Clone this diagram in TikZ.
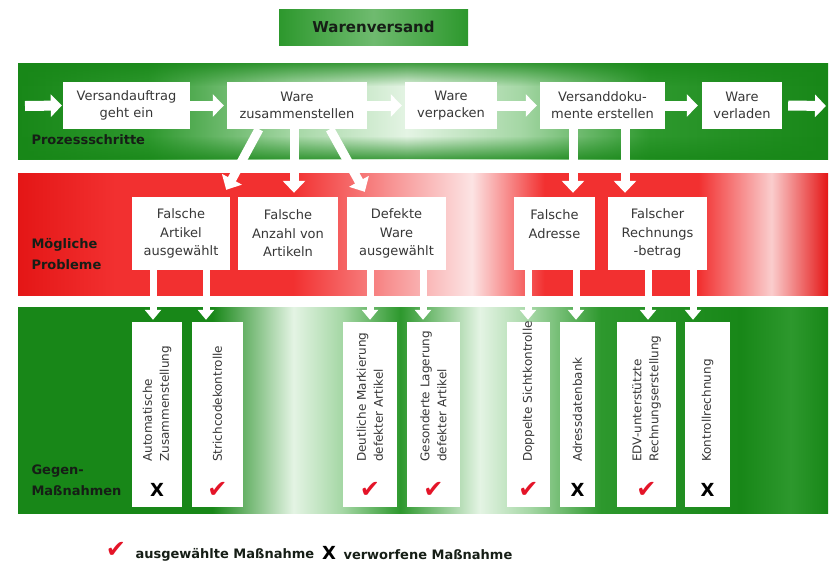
\documentclass[tikz,border=0pt]{standalone}
\usepackage{fontspec}
\setmainfont{DejaVu Sans}
\usetikzlibrary{arrows.meta,fadings}

\definecolor{gdark}{RGB}{24,135,24}
\definecolor{gmid}{RGB}{45,152,45}
\definecolor{glight}{RGB}{165,215,165}
\definecolor{gpale}{RGB}{228,244,228}
\definecolor{rdark}{RGB}{228,22,22}
\definecolor{rmid}{RGB}{242,48,48}
\definecolor{rlight}{RGB}{250,205,205}
\definecolor{rpale}{RGB}{252,228,228}
\definecolor{txt}{RGB}{55,55,55}
\definecolor{lbl}{RGB}{22,30,22}
\definecolor{checkred}{RGB}{228,20,40}

\pgfdeclarehorizontalshading{topband}{100bp}{color(0bp)=(gdark); color(25bp)=(gdark);
  color(33bp)=(gmid); color(42bp)=(glight); color(49bp)=(gpale); color(56bp)=(glight);
  color(64bp)=(gmid); color(75bp)=(gdark); color(100bp)=(gdark)}
\pgfdeclarehorizontalshading{redband}{100bp}{color(0bp)=(rdark); color(25bp)=(rdark);
  color(31bp)=(rmid); color(42bp)=(rmid); color(53bp)=(rpale); color(57.5bp)=(rmid);
  color(67bp)=(rmid); color(71.5bp)=(rlight); color(75bp)=(rdark); color(100bp)=(rdark)}
\pgfdeclarehorizontalshading{lowband}{100bp}{color(0bp)=(gdark); color(25bp)=(gdark);
  color(37bp)=(gdark); color(42bp)=(gpale); color(45bp)=(glight); color(48.6bp)=(gmid);
  color(53.5bp)=(gpale); color(56.6bp)=(glight); color(61bp)=(gmid); color(69.6bp)=(gdark);
  color(72.7bp)=(gmid); color(75bp)=(gdark); color(100bp)=(gdark)}

\tikzfading[name=fadedown, top color=transparent!0, bottom color=transparent!100]
\tikzfading[name=fadeup, top color=transparent!100, bottom color=transparent!0]

\newcommand{\markok}{{\color{checkred}\fontsize{24}{24}\selectfont ✔}}
\newcommand{\markno}{{\color{black}\bfseries\fontsize{18}{18}\selectfont X}}

\begin{document}
\begin{tikzpicture}[x=1pt, y=-1pt,
    procbox/.style={fill=white, minimum height=47pt, align=center, text=txt,
      font=\fontsize{13}{17}\selectfont},
    probbox/.style={fill=white, minimum height=73pt, align=center, text=txt,
      font=\fontsize{13}{18.5}\selectfont},
    measbox/.style={fill=white, minimum height=185pt, inner sep=0pt},
    meastext/.style={rotate=90, anchor=west, align=left, text=txt,
      font=\fontsize{12}{17}\selectfont},
    bandlabel/.style={anchor=west, align=left, text=lbl,
      font=\bfseries\fontsize{13}{21}\selectfont},
    blockarrow/.style={draw=white, line width=10pt, -{Triangle[width=22pt,length=11pt]}},
    downarrow/.style={draw=white, line width=9pt, -{Triangle[width=22pt,length=12pt]}},
    smallarrow/.style={draw=white, line width=7pt, shorten >=2pt,
      -{Triangle[width=16pt,length=10pt]}}]
  \useasboundingbox (0,0) rectangle (831,566);

  % bands
  \fill[shading=topband] (18,63) rectangle (828,159);
  \fill[gdark, opacity=0.8, path fading=fadedown] (18,63) rectangle (828,86);
  \fill[gdark, opacity=0.8, path fading=fadeup] (18,136) rectangle (828,159);
  \fill[shading=redband] (18,173) rectangle (828,295);
  \fill[shading=lowband] (18,307) rectangle (828,513);

  \node[left color=gmid, right color=gmid, middle color=glight!55!gmid, minimum width=189pt,
    minimum height=36pt, text=lbl, font=\bfseries\fontsize{15}{15}\selectfont]
    (title) at (373.5,27) {Warenversand};

  % process steps
  \node[procbox, minimum width=127pt] (s1) at (126.5,105.5) {Versandauftrag\\geht ein};
  \node[procbox, minimum width=140pt] (s2) at (297,105.5) {Ware\\zusammenstellen};
  \node[procbox, minimum width=92pt] (s3) at (451,105.5) {Ware\\verpacken};
  \node[procbox, minimum width=125pt] (s4) at (602.5,105.5) {Versanddoku-\\mente erstellen};
  \node[procbox, minimum width=80pt] (s5) at (742,105.5) {Ware\\verladen};
  \coordinate (in) at (25,106);
  \coordinate (out) at (826,106);
  \node[bandlabel] (steps) at (28,140) {Prozessschritte};

  \draw[blockarrow] (in) -- ([xshift=-1pt]s1.west);
  \draw[blockarrow] (s1.east) -- ([xshift=-3pt]s2.west);
  \draw[blockarrow] (s2.east) -- ([xshift=-3pt]s3.west);
  \draw[blockarrow] (s3.east) -- ([xshift=-3pt]s4.west);
  \draw[blockarrow] (s4.east) -- ([xshift=-4pt]s5.west);
  \draw[blockarrow] ([xshift=6pt]s5.east) -- (out);

  % problems
  \node[probbox, minimum width=98pt] (p1) at (181,233.5) {Falsche\\Artikel\\ausgewählt};
  \node[probbox, minimum width=100pt] (p2) at (288,233.5) {Falsche\\Anzahl von\\Artikeln};
  \node[probbox, minimum width=99pt] (p3) at (396.5,233.5) {Defekte\\Ware\\ausgewählt};
  \node[probbox, minimum width=81pt] (p4) at (554.5,233.5) {Falsche\\Adresse\\~};
  \node[probbox, minimum width=99pt] (p5) at (657.5,233.5) {Falscher\\Rechnungs\\-betrag};
  \node[bandlabel] (probs) at (28,254) {Mögliche\\Probleme};

  \draw[downarrow] ([xshift=-38pt]s2.south) -- ([shift={(-4pt,7pt)}]p1.north east);
  \draw[downarrow, shorten >=4pt] ([xshift=-3pt]s2.south) -- ([xshift=-3pt]s2.south |- p2.north);
  \draw[downarrow] ([xshift=33pt]s2.south) -- ([shift={(18pt,5pt)}]p3.north west);
  \draw[downarrow, shorten >=4pt] ([xshift=-29.5pt]s4.south) -- ([xshift=-29.5pt]s4.south |- p4.north);
  \draw[downarrow, shorten >=4pt] ([xshift=22.5pt]s4.south) -- ([xshift=22.5pt]s4.south |- p5.north);

  % counter measures
  \foreach \n/\x/\w/\txt/\mk in {
      m1/157/50/{Automatische\\Zusammenstellung}/\markno,
      m2/217.5/51/{Strichcodekontrolle}/\markok,
      m3/370/54/{Deutliche Markierung\\defekter Artikel}/\markok,
      m4/433.5/53/{Gesonderte Lagerung\\defekter Artikel}/\markok,
      m5/528.5/43/{Doppelte Sichtkontrolle}/\markok,
      m6/577.5/35/{Adressdatenbank}/\markno,
      m7/646.5/59/{EDV-unterstützte\\Rechnungserstellung}/\markok,
      m8/707.5/45/{Kontrollrechnung}/\markno} {
    \node[measbox, minimum width=\w pt] (\n) at (\x,414.5) {};
    \node[meastext] (\n-txt) at ([yshift=42pt]\n.south) {\txt};
    \node (\n-mark) at ([yshift=17pt]\n.south) {\mk};
  }
  \node[bandlabel] (meas) at (28,480) {Gegen-\\Maßnahmen};

  \draw[smallarrow] ([xshift=-28pt]p1.south) -- ([xshift=-28pt]p1.south |- m1.north);
  \draw[smallarrow] ([xshift=25pt]p1.south) -- ([xshift=25pt]p1.south |- m2.north);
  \draw[smallarrow] ([xshift=-26.5pt]p3.south) -- ([xshift=-26.5pt]p3.south |- m3.north);
  \draw[smallarrow] ([xshift=26.5pt]p3.south) -- ([xshift=26.5pt]p3.south |- m4.north);
  \draw[smallarrow] ([xshift=-26.5pt]p4.south) -- ([xshift=-26.5pt]p4.south |- m5.north);
  \draw[smallarrow] ([xshift=21.5pt]p4.south) -- ([xshift=21.5pt]p4.south |- m6.north);
  \draw[smallarrow] ([xshift=-9.5pt]p5.south) -- ([xshift=-9.5pt]p5.south |- m7.north);
  \draw[smallarrow] ([xshift=35.5pt]p5.south) -- ([xshift=35.5pt]p5.south |- m8.north);

  % legend
  \node (ok) at (116,550) {\markok};
  \node[anchor=west, text=lbl, font=\bfseries\fontsize{13}{13}\selectfont] (oktxt) at (132,555) {ausgewählte Maßnahme};
  \node (no) at (329,553) {\markno};
  \node[anchor=west, text=lbl, font=\bfseries\fontsize{13}{13}\selectfont] (notxt) at (340,555) {verworfene Maßnahme};
\end{tikzpicture}
\end{document}
